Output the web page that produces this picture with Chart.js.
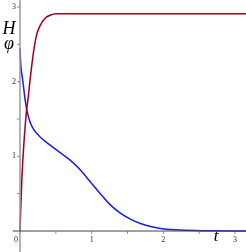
<!DOCTYPE html>
<html>
<head>
<meta charset="utf-8">
<script src="https://cdn.jsdelivr.net/npm/chart.js@4/dist/chart.umd.min.js"></script>
<style>
  html, body { margin: 0; padding: 0; background: #fff; }
  #box { width: 246px; height: 252px; }
</style>
</head>
<body>
<div id="box"><canvas id="myChart"></canvas></div>
<script>
// red curve H(t)
var redT = [0, 0.025, 0.06, 0.09, 0.116, 0.14, 0.186, 0.23, 0.28, 0.35, 0.42, 0.5, 0.7, 1.0, 2.0, 3.16];
var redH = [0, 0.68, 1.25, 1.6, 1.8, 2.02, 2.38, 2.62, 2.75, 2.85, 2.89, 2.91, 2.91, 2.91, 2.91, 2.91];
// blue curve phi(t)
var blueT = [0, 0.01, 0.038, 0.07, 0.093, 0.14, 0.19, 0.28, 0.42, 0.56, 0.7, 0.84, 0.98, 1.12, 1.26, 1.4, 1.54, 1.68, 1.82, 1.96, 2.24, 2.6, 3.16];
var blueH = [2.45, 2.24, 2.02, 1.77, 1.63, 1.46, 1.36, 1.26, 1.15, 1.05, 0.95, 0.82, 0.66, 0.5, 0.35, 0.24, 0.16, 0.1, 0.06, 0.035, 0.013, 0.004, 0.0];
// tick labels
var xTicks = [0, 1, 2, 3];
var yTicks = [1, 2, 3];
var minorStep = 0.5;

function pairs(xs, ys) {
    return xs.map((x, i) => ({ x: x, y: ys[i] }));
}

// axes through the origin, drawn from the chart scales
const originAxes = {
    id: 'originAxes',
    afterDatasetsDraw(chart) {
        const ctx = chart.ctx;
        const xs = chart.scales.x, ys = chart.scales.y;
        const x0 = xs.getPixelForValue(0), y0 = ys.getPixelForValue(0);
        ctx.save();
        // y axis
        ctx.strokeStyle = '#9a9a9a';
        ctx.lineWidth = 1.5;
        ctx.beginPath();
        ctx.moveTo(x0, 0);
        ctx.lineTo(x0, chart.height);
        ctx.stroke();
        // x axis
        ctx.strokeStyle = '#444';
        ctx.lineWidth = 1;
        ctx.beginPath();
        ctx.moveTo(xs.getPixelForValue(-0.1), y0);
        ctx.lineTo(chart.width, y0);
        ctx.stroke();
        // minor ticks
        ctx.strokeStyle = '#777';
        ctx.lineWidth = 0.8;
        for (let v = minorStep; v <= 3.01; v += minorStep) {
            let px = xs.getPixelForValue(v);
            ctx.beginPath(); ctx.moveTo(px, y0); ctx.lineTo(px, y0 + 3); ctx.stroke();
            let py = ys.getPixelForValue(v);
            ctx.beginPath(); ctx.moveTo(x0, py); ctx.lineTo(x0 - 3, py); ctx.stroke();
        }
        // tick labels
        ctx.fillStyle = '#333';
        ctx.font = '8px "Liberation Serif", "DejaVu Serif", serif';
        ctx.textBaseline = 'middle';
        ctx.textAlign = 'center';
        xTicks.forEach(v => {
            let px = xs.getPixelForValue(v);
            if (v === 0) px -= 4;
            ctx.fillText(String(v), px, y0 + 9);
        });
        ctx.textAlign = 'right';
        yTicks.forEach(v => {
            ctx.fillText(String(v), x0 - 4, ys.getPixelForValue(v));
        });
        // axis titles
        ctx.font = 'italic 18px "Liberation Serif", "DejaVu Serif", serif';
        ctx.textAlign = 'center';
        ctx.fillStyle = '#000';
        ctx.fillText('H', 9, 29);
        ctx.fillText('φ', 9, 44);
        ctx.font = 'italic 17px "Liberation Serif", "DejaVu Serif", serif';
        ctx.fillText('t', 216, 237);
        ctx.restore();
    }
};

const ctx = document.getElementById('myChart');
var myChart = new Chart(ctx, {
    type: 'scatter',
    data: {
        datasets: [
            {
                label: 'H',
                data: pairs(redT, redH),
                showLine: true,
                borderColor: '#a0001a',
                borderWidth: 1.5,
                pointRadius: 0,
                cubicInterpolationMode: 'monotone'
            },
            {
                label: 'phi',
                data: pairs(blueT, blueH),
                showLine: true,
                borderColor: '#1a1aff',
                borderWidth: 1.5,
                pointRadius: 0,
                cubicInterpolationMode: 'monotone'
            }
        ]
    },
    options: {
        responsive: true,
        maintainAspectRatio: false,
        animation: false,
        layout: { padding: 0 },
        plugins: { legend: { display: false }, tooltip: { enabled: false } },
        scales: {
            x: { type: 'linear', min: -0.279, max: 3.153, display: false },
            y: { type: 'linear', min: -0.281, max: 3.094, display: false }
        }
    },
    plugins: [originAxes]
});
</script>
</body>
</html>
